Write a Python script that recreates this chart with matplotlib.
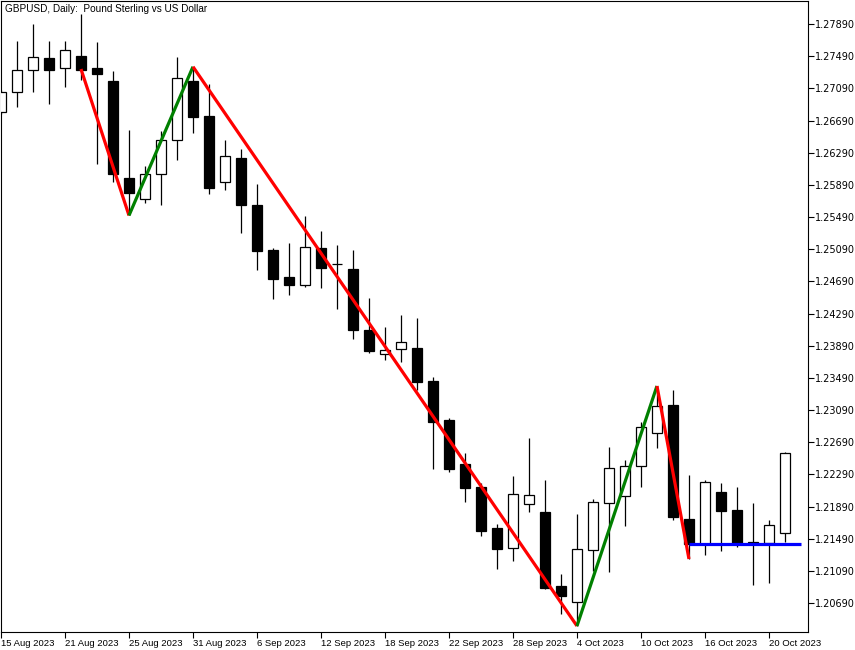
import matplotlib
matplotlib.use('Agg')
import matplotlib.pyplot as plt

# ---- data (GBPUSD daily) ----
opens = [1.26796, 1.27041, 1.27314, 1.27464, 1.27339, 1.27488, 1.27339, 1.27181, 1.25971, 1.25710,
         1.26021, 1.26444, 1.27181, 1.26746, 1.25922, 1.26224, 1.25639, 1.25080, 1.24744, 1.24641,
         1.25105, 1.24912, 1.24844, 1.24085, 1.23783, 1.23845, 1.23858, 1.23451, 1.22966, 1.22419,
         1.22129, 1.21620, 1.21371, 1.21918, 1.21818, 1.20902, 1.20699, 1.21346, 1.21930, 1.22017,
         1.22390, 1.22801, 1.23153, 1.21735, 1.21424, 1.22071, 1.21847, 1.21445, 1.21440, 1.21557]
highs = [1.27069, 1.27679, 1.27886, 1.27679, 1.27679, 1.28011, 1.27662, 1.27306, 1.26572, 1.26124,
         1.26560, 1.27483, 1.27359, 1.27144, 1.26448, 1.26336, 1.25901, 1.25101, 1.25171, 1.25503,
         1.25316, 1.25142, 1.25080, 1.24483, 1.24122, 1.24272, 1.24231, 1.23501, 1.22987, 1.22556,
         1.22183, 1.21673, 1.22270, 1.22742, 1.22220, 1.21051, 1.21797, 1.21984, 1.22627, 1.22469,
         1.22937, 1.23389, 1.23335, 1.22282, 1.22220, 1.22183, 1.22133, 1.21934, 1.21723, 1.22568]
lows = [1.26771, 1.26862, 1.27041, 1.26899, 1.27110, 1.27197, 1.26153, 1.25922, 1.25509, 1.25668,
        1.25643, 1.26203, 1.26538, 1.25776, 1.25826, 1.25295, 1.24831, 1.24467, 1.24520, 1.24624,
        1.24611, 1.24350, 1.23977, 1.23803, 1.23716, 1.23691, 1.23339, 1.22361, 1.22323, 1.21950,
        1.21528, 1.21117, 1.21217, 1.21826, 1.20865, 1.20550, 1.20405, 1.21092, 1.21080, 1.21652,
        1.22137, 1.22622, 1.21727, 1.21238, 1.21291, 1.21341, 1.21391, 1.20918, 1.20943, 1.21449]
closes = [1.27044, 1.27314, 1.27476, 1.27322, 1.27563, 1.27322, 1.27265, 1.26021, 1.25785, 1.26021,
          1.26444, 1.27215, 1.26737, 1.25855, 1.26245, 1.25643, 1.25071, 1.24723, 1.24649, 1.25113,
          1.24860, 1.24908, 1.24089, 1.23828, 1.23833, 1.23932, 1.23442, 1.22945, 1.22361, 1.22124,
          1.21590, 1.21366, 1.22042, 1.22030, 1.20881, 1.20781, 1.21358, 1.21943, 1.22366, 1.22390,
          1.22875, 1.23136, 1.21764, 1.21424, 1.22192, 1.21838, 1.21433, 1.21433, 1.21657, 1.22552]

zz_idx = [5, 8, 12, 36, 41, 43]
zz_val = [1.27330, 1.25509, 1.27359, 1.20405, 1.23389, 1.21238]

level_val = 1.21424
level_start = 43
level_end = 50

date_idx = [0, 4, 8, 12, 16, 20, 24, 28, 32, 36, 40, 44, 48]
date_labels = ["15 Aug 2023", "21 Aug 2023", "25 Aug 2023", "31 Aug 2023", "6 Sep 2023",
               "12 Sep 2023", "18 Sep 2023", "22 Sep 2023", "28 Sep 2023", "4 Oct 2023",
               "10 Oct 2023", "16 Oct 2023", "20 Oct 2023"]

price_ticks = [1.27890, 1.27490, 1.27090, 1.26690, 1.26290, 1.25890, 1.25490, 1.25090, 1.24690,
               1.24290, 1.23890, 1.23490, 1.23090, 1.22690, 1.22290, 1.21890, 1.21490, 1.21090,
               1.20690]

title = "GBPUSD, Daily:  Pound Sterling vs US Dollar"

# ---- figure ----
W, H = 855, 650
fig = plt.figure(figsize=(W / 100, H / 100), dpi=100)
ax = fig.add_axes([1 / W, 18 / H, 807 / W, 631 / H])

n = len(opens)
xs = list(range(n))

# wicks
ax.vlines(xs, lows, highs, color='black', linewidth=0.9, zorder=2)

# bodies
for i in xs:
    o, c = opens[i], closes[i]
    bottom = min(o, c)
    height = max(abs(c - o), 0.00002)
    fill = 'white' if c > o else 'black'
    ax.bar(i, height, bottom=bottom, width=0.68, color=fill, edgecolor='black',
           linewidth=0.9, zorder=3)

# zigzag
for k in range(len(zz_idx) - 1):
    col = '#008000' if zz_val[k + 1] > zz_val[k] else '#FF0000'
    ax.plot([zz_idx[k], zz_idx[k + 1]], [zz_val[k], zz_val[k + 1]], color=col,
            linewidth=2.3, solid_capstyle='butt', zorder=5)

# level line
ax.plot([level_start, level_end], [level_val, level_val], color='#0000FF', linewidth=2.3,
        solid_capstyle='butt', zorder=5)

ax.set_xlim(0, 50.44)
ax.set_ylim(1.20330, 1.28176)

ax.yaxis.tick_right()
ax.set_yticks(price_ticks)
ax.set_yticklabels([f"{p:.5f}" for p in price_ticks])
ax.tick_params(axis='y', direction='out', length=4, width=0.8, labelsize=7, pad=1,
               colors='black')

ax.set_xticks(date_idx)
ax.set_xticklabels(date_labels, ha='left', family='Liberation Sans', fontsize=6.8)
ax.tick_params(axis='x', direction='out', length=4, width=0.8, pad=1, colors='black')

for sp in ax.spines.values():
    sp.set_color('black')
    sp.set_linewidth(0.8)

fig.text(5 / W, 1 - 9 / H, title, fontsize=7.2, family='Liberation Sans',
         va='center', ha='left', color='black')

fig.savefig('out.png', dpi=100)
